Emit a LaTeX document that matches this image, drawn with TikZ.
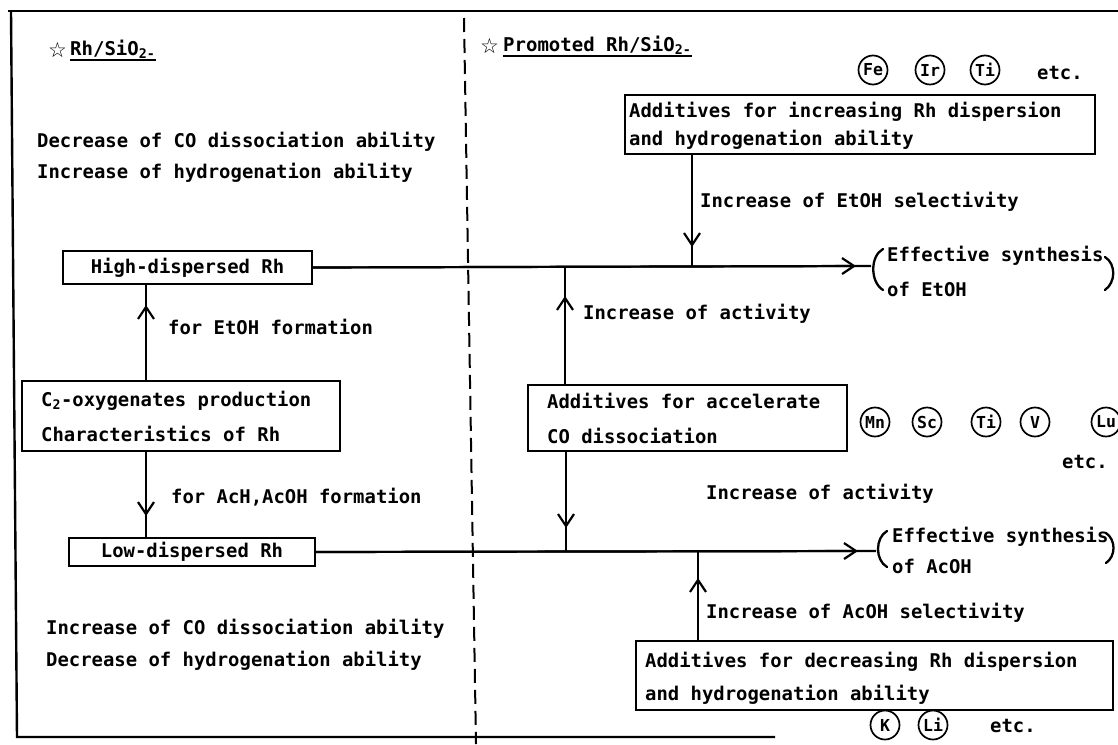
\documentclass[tikz,border=0pt]{standalone}
\usepackage{fontspec}
\setmonofont{DejaVu Sans Mono}
\newfontfamily\mystarfont{DejaVu Sans}
\usetikzlibrary{arrows.meta,calc}
\newcommand\bodyfont{\ttfamily\bfseries\fontsize{18.9}{31}\selectfont}
\newcommand\hdrfont{\ttfamily\bfseries\fontsize{19}{20}\selectfont}
\newcommand\elemfont{\ttfamily\bfseries\fontsize{16.5}{16.5}\selectfont}
\begin{document}
\begin{tikzpicture}[x=1pt,y=-1pt,
  txt/.style={font=\bodyfont, inner sep=0pt, anchor=base west},
  rect/.style={draw, line width=2pt, anchor=north west, inner sep=0pt},
  smallbox/.style={draw, line width=2pt, font=\bodyfont, anchor=north west, align=center, inner sep=0pt},
  conn/.style={line width=2.2pt},
  arr/.style={line width=2.2pt, -{Straight Barb[length=12pt,width=16pt,line width=2.2pt]}},
  elem/.style={circle, draw, line width=1.7pt, minimum size=29pt, inner sep=0pt, font=\elemfont},
  border/.style={line width=2.4pt},
  divider/.style={line width=2pt, dash pattern=on 14pt off 7pt},
  brk/.style={line width=2.3pt, line cap=round},
  uline/.style={line width=1.8pt},
  star/.style={font=\mystarfont\bfseries\fontsize{21}{21}\selectfont, inner sep=0pt, anchor=base west}
]
\useasboundingbox (0,0) rectangle (1118,744);

% frame and divider
\draw[border] (8,11) -- (1118,11);
\draw[border] (11,11) -- (17,737) -- (775,737);
\draw[divider] (464,18) -- (476,744);

% headers
\node[star] (starL) at (48,57) {☆};
\node[txt, font=\hdrfont] (hdrL) at (70,55) {Rh/SiO\textsubscript{2-}};
\draw[uline] ($(hdrL.base west)+(0,5)$) -- ($(hdrL.base east)+(0,5)$);
\node[star] (starR) at (480,53) {☆};
\node[txt, font=\hdrfont] (hdrR) at (503,51) {Promoted Rh/SiO\textsubscript{2-}};
\draw[uline] ($(hdrR.base west)+(0,5)$) -- ($(hdrR.base east)+(0,5)$);

% left column
\node[txt] (dec1) at (37,147) {Decrease of CO dissociation ability};
\node[txt] (inc1) at (37,178) {Increase of hydrogenation ability};
\node[smallbox, minimum width=249pt, minimum height=33pt] (High) at (62,250) {High-dispersed Rh};
\node[txt] (forEt) at (168,334) {for EtOH formation};
\node[rect, minimum width=318pt, minimum height=70pt] (C2) at (21,380) {};
\node[txt] (C2a) at (41,406) {C\textsubscript{2}-oxygenates production};
\node[txt] (C2b) at (41,441) {Characteristics of Rh};
\node[txt] (forAc) at (171,503) {for AcH,AcOH formation};
\node[smallbox, minimum width=246pt, minimum height=28pt] (Low) at (68,537) {Low-dispersed Rh};
\node[txt] (inc2) at (46,634) {Increase of CO dissociation ability};
\node[txt] (dec2) at (46,666) {Decrease of hydrogenation ability};

% right column, top
\node[elem] (fe) at (873,70) {Fe};
\node[elem] (ir) at (930,70) {Ir};
\node[elem] (ti1) at (985,70) {Ti};
\node[txt] (etc1) at (1037,79) {etc.};
\node[rect, minimum width=470pt, minimum height=59pt] (box1) at (624,94) {};
\node[txt] (box1a) at (629,117) {Additives for increasing Rh dispersion};
\node[txt] (box1b) at (629,145) {and hydrogenation ability};
\node[txt] (selEt) at (700,207) {Increase of EtOH selectivity};

\node[txt, font=\ttfamily\bfseries\fontsize{18.9}{35}\selectfont, align=left, anchor=north west] (e1) at (887,246)
  {Effective synthesis\\of EtOH};
\draw[brk] (883,249) .. controls (870,256) and (870,282) .. (883,290);
\draw[brk] (1105,257) .. controls (1116,264) and (1116,282) .. (1105,290);

% right column, middle
\node[txt] (act1) at (583,319) {Increase of activity};
\node[rect, minimum width=319pt, minimum height=66pt] (box2) at (527,384) {};
\node[txt] (box2a) at (547,408) {Additives for accelerate};
\node[txt] (box2b) at (547,443) {CO dissociation};
\node[elem] (mn) at (875,422) {Mn};
\node[elem] (sc) at (927,422) {Sc};
\node[elem] (ti2) at (986,422) {Ti};
\node[elem] (v) at (1035,422) {V};
\node[elem] (lu) at (1106,422) {Lu};
\node[txt] (etc2) at (1062,468) {etc.};
\node[txt] (act2) at (706,499) {Increase of activity};

\node[txt, font=\ttfamily\bfseries\fontsize{18.9}{31}\selectfont, align=left, anchor=north west] (e2) at (892,527)
  {Effective synthesis\\of AcOH};
\draw[brk] (887,531) .. controls (875,538) and (875,560) .. (887,567);
\draw[brk] (1106,533) .. controls (1116,540) and (1116,556) .. (1106,563);

% right column, bottom
\node[txt] (selAc) at (706,618) {Increase of AcOH selectivity};
\node[rect, minimum width=477pt, minimum height=69pt] (box3) at (635,640) {};
\node[txt] (box3a) at (645,667) {Additives for decreasing Rh dispersion};
\node[txt] (box3b) at (645,700) {and hydrogenation ability};
\node[elem] (k) at (885,725) {K};
\node[elem] (li) at (933,725) {Li};
\node[txt] (etc3) at (990,732) {etc.};

% main horizontal connectors
\coordinate (p1) at (871,266);
\coordinate (t1) at (856,266);
\draw[conn] (High.east) -- (p1);
\draw[arr] (High.east) -- (t1);
\coordinate (p2) at (876,551);
\coordinate (t2) at (858,551);
\draw[conn] (Low.east) -- (p2);
\draw[arr] (Low.east) -- (t2);

% vertical connectors, right
\coordinate (j1) at (692,266);
\coordinate (j1t) at (692,247);
\draw[conn] (j1 |- box1.south) -- (j1);
\draw[arr] (j1 |- box1.south) -- (j1t);
\coordinate (j2) at (565,266);
\coordinate (j2t) at (565,296);
\draw[conn] (j2 |- box2.north) -- (j2);
\draw[arr] (j2 |- box2.north) -- (j2t);
\coordinate (j3) at (566,551);
\coordinate (j3t) at (566,528);
\draw[conn] (j3 |- box2.south) -- (j3);
\draw[arr] (j3 |- box2.south) -- (j3t);
\coordinate (j4) at (698,551);
\coordinate (j4t) at (698,578);
\draw[conn] (j4 |- box3.north) -- (j4);
\draw[arr] (j4 |- box3.north) -- (j4t);

% vertical connectors, left
\coordinate (xa) at (146,0);
\coordinate (a5t) at (146,305);
\coordinate (a6t) at (146,516);
\draw[conn] (xa |- C2.north) -- (xa |- High.south);
\draw[arr] (xa |- C2.north) -- (a5t);
\draw[conn] (xa |- C2.south) -- (xa |- Low.north);
\draw[arr] (xa |- C2.south) -- (a6t);
\end{tikzpicture}
\end{document}
